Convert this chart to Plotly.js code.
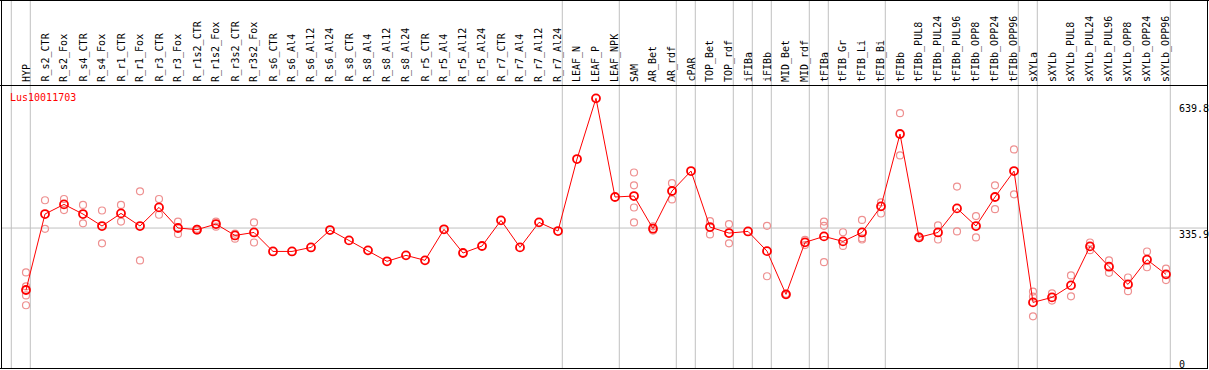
<!DOCTYPE html>
<html>
<head>
<meta charset="utf-8">
<script src="https://cdn.plot.ly/plotly-3.0.1.min.js"></script>
<style>html,body{margin:0;padding:0;background:#fff;}#chart{width:1209px;height:370px;}</style>
</head>
<body>
<div id="chart"></div>
<script>
// ---- data ----
const geneName = "Lus10011703";
const categories = ["HYP","R_s2_CTR","R_s2_Fox","R_s4_CTR","R_s4_Fox","R_r1_CTR","R_r1_Fox","R_r3_CTR","R_r3_Fox","R_r1s2_CTR","R_r1s2_Fox","R_r3s2_CTR","R_r3s2_Fox","R_s6_CTR","R_s6_Al4","R_s6_Al12","R_s6_Al24","R_s8_CTR","R_s8_Al4","R_s8_Al12","R_s8_Al24","R_r5_CTR","R_r5_Al4","R_r5_Al12","R_r5_Al24","R_r7_CTR","R_r7_Al4","R_r7_Al12","R_r7_Al24","LEAF_N","LEAF_P","LEAF_NPK","SAM","AR_Bet","AR_rdf","cPAR","TOP_Bet","TOP_rdf","iFIBa","iFIBb","MID_Bet","MID_rdf","tFIBa","tFIB_Gr","tFIB_Li","tFIB_Bi","tFIBb","tFIBb_PUL8","tFIBb_PUL24","tFIBb_PUL96","tFIBb_OPP8","tFIBb_OPP24","tFIBb_OPP96","sXYLa","sXYLb","sXYLb_PUL8","sXYLb_PUL24","sXYLb_PUL96","sXYLb_OPP8","sXYLb_OPP24","sXYLb_OPP96"];
const meanValues = [190.7,368.7,391.3,368.7,340.6,370.2,340.6,384.3,336.0,332.1,345.2,318.6,325.6,281.1,281.1,290.5,331.2,307.0,283.6,257.9,271.9,260.2,332.9,277.4,293.8,353.9,290.6,349.2,328.9,497.6,639.8,408.6,410.9,334.4,422.7,469.4,338.2,324.1,328.0,281.8,180.5,302.4,316.3,304.6,325.6,386.7,556.2,314.0,325.6,381.9,340.6,408.6,469.4,161.7,173.4,201.5,292.9,245.3,203.9,261.8,227.4];
const rep1 = [232,401,404,390,377,390,422,404,351,334,351,323,349,null,null,null,null,null,null,null,null,null,null,null,null,null,null,null,null,null,null,null,466,340,441,null,352,345,null,341,182,308,351,326,355,396,605,316,342,433,364,436,520,187,183,225,302,260,220,281,241];
const rep2 = [199,334,378,347,300,351,260,367,322,330,339,311,302,null,null,null,null,null,null,null,null,null,null,null,null,null,null,null,null,null,null,null,436,330,403,null,321,300,null,223,179,296,341,294,312,370,506,312,309,328,314,380,415,175,166,176,284,231,188,244,214];
const rep3 = [178,null,null,null,null,null,null,null,null,null,null,null,null,null,null,null,null,null,null,null,null,null,null,null,null,null,null,null,null,null,null,null,384,null,null,null,null,null,null,null,null,null,256,null,309,null,null,null,null,null,null,null,null,129,null,null,null,null,null,null,null];
const rep4 = [155,null,null,null,null,null,null,null,null,null,null,null,null,null,null,null,null,null,null,null,null,null,null,null,null,null,null,null,null,null,null,null,349,null,null,null,null,null,null,null,null,null,null,null,null,null,null,null,null,null,null,null,null,null,null,null,null,null,null,null,null];
const groupEnds = ["START","HYP","R_r7_Al24","LEAF_NPK","AR_rdf","cPAR","TOP_rdf","iFIBa","iFIBb","MID_rdf","tFIBa","tFIB_Bi","tFIBb_OPP96","sXYLa","sXYLb_OPP96"];
const axisMarks = [
  {text: "639.8", top: 102},
  {text: "335.9", top: 228},
  {text: "0", top: 358}
];
const refLine = 335.9;

// ---- build ----
const W = 1209, H = 370;
const idx = categories.map((c, i) => i);
const repX = [], repY = [];
[rep1, rep2, rep3, rep4].forEach(r => r.forEach((v, i) => { if (v !== null) { repX.push(i); repY.push(v); } }));

const traces = [
  {x: repX, y: repY, mode: 'markers', type: 'scatter', hoverinfo: 'skip',
   marker: {symbol: 'circle-open', size: 7, color: '#ee9090', line: {width: 1.2, color: '#ee9090'}}},
  {x: idx, y: meanValues, mode: 'lines+markers', type: 'scatter',
   line: {color: '#ff0000', width: 1},
   marker: {symbol: 'circle-open', size: 8, color: '#ff0000', line: {width: 1.8, color: '#ff0000'}}}
];

const px2paperY = p => 1 - p / H;
const px2paperX = p => p / W;
const shapes = [];
groupEnds.forEach(g => {
  const k = g === "START" ? -1 : categories.indexOf(g);
  shapes.push({type: 'line', xref: 'x', yref: 'paper', x0: k + 0.226, x1: k + 0.226, y0: px2paperY(369), y1: 1,
               line: {color: '#c0c0c0', width: 1}, layer: 'below'});
});
shapes.push({type: 'line', xref: 'paper', yref: 'y', x0: px2paperX(1), x1: px2paperX(1207), y0: refLine, y1: refLine,
             line: {color: '#c0c0c0', width: 1}, layer: 'below'});
// frame
const blk = {color: '#000', width: 1};
shapes.push({type: 'line', xref: 'paper', yref: 'paper', x0: 0, x1: 1, y0: px2paperY(0.5), y1: px2paperY(0.5), line: blk});
shapes.push({type: 'line', xref: 'paper', yref: 'paper', x0: 0, x1: px2paperX(1208), y0: px2paperY(85.5), y1: px2paperY(85.5), line: blk});
shapes.push({type: 'line', xref: 'paper', yref: 'paper', x0: 0, x1: px2paperX(1208), y0: px2paperY(368.5), y1: px2paperY(368.5), line: blk});
shapes.push({type: 'line', xref: 'paper', yref: 'paper', x0: px2paperX(1.5), x1: px2paperX(1.5), y0: px2paperY(369), y1: 1, line: blk});
shapes.push({type: 'line', xref: 'paper', yref: 'paper', x0: px2paperX(1207.5), x1: px2paperX(1207.5), y0: px2paperY(369), y1: 1, line: blk});

const mono = 'DejaVu Sans Mono, Liberation Mono, monospace';
const annotations = categories.map((c, i) => ({
  x: i, xref: 'x', y: px2paperY(83), yref: 'paper', text: c, showarrow: false,
  textangle: -90, xanchor: 'center', yanchor: 'bottom', borderpad: 0,
  font: {family: mono, size: 10, color: '#000'}
}));
annotations.push({x: px2paperX(9), xref: 'paper', y: px2paperY(91), yref: 'paper', text: geneName,
  showarrow: false, xanchor: 'left', yanchor: 'top', borderpad: 0, font: {family: mono, size: 10, color: '#ff0000'}});
axisMarks.forEach(m => annotations.push({x: px2paperX(1178), xref: 'paper', y: px2paperY(m.top), yref: 'paper', text: m.text,
  showarrow: false, xanchor: 'left', yanchor: 'top', borderpad: 0, font: {family: mono, size: 10, color: '#000'}}));

const layout = {
  width: W, height: H, margin: {l: 0, r: 0, t: 0, b: 0, pad: 0},
  paper_bgcolor: '#fff', plot_bgcolor: '#fff', showlegend: false,
  xaxis: {range: [-26 / 19, (W - 26) / 19], visible: false, showgrid: false, zeroline: false, fixedrange: true},
  yaxis: {range: [3.3, 870.2], visible: false, showgrid: false, zeroline: false, fixedrange: true},
  shapes: shapes, annotations: annotations
};
Plotly.newPlot('chart', traces, layout, {staticPlot: true, displayModeBar: false});
</script>
</body>
</html>
